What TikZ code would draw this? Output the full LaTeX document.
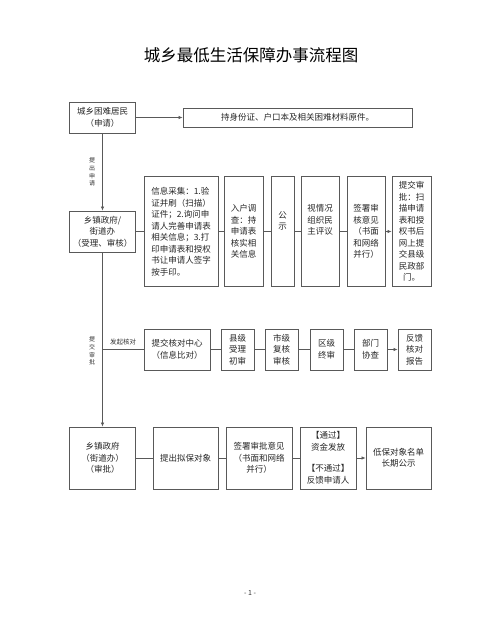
\documentclass[tikz,border=0pt]{standalone}
\usepackage{fontspec}
\setmainfont{Noto Sans CJK SC}
\usetikzlibrary{arrows.meta}

\begin{document}
\begin{tikzpicture}[x=1pt,y=-1pt]
  \tikzset{box/.style = {draw=black!65,line width=0.8pt,inner sep=1pt,align=center,text=black!85,font=\fontsize{8.5}{11.5}\selectfont}}
  \tikzset{link/.style = {draw=black!65,line width=0.7pt}}
  \tikzset{arr/.style = {link,-{Latex[length=4pt,width=3.5pt]}}}
  \tikzset{tag/.style = {inner sep=0pt,text=black!80,align=center,font=\fontsize{6}{7.8}\selectfont}}

\useasboundingbox (0,0) rectangle (500,643);

\node (title) at (251,55) {\fontsize{16.5}{18}\selectfont 城乡最低生活保障办事流程图};

% first row
\node[box,minimum width=66pt,minimum height=31pt] (apply) at (102.5,117.5) {城乡困难居民\\（申请）};
\node[box,minimum width=229pt,minimum height=19pt] (docs) at (297.5,117.5) {持身份证、户口本及相关困难材料原件。};

% second row
\node[box,minimum width=66pt,minimum height=41pt] (town) at (102.5,231.5) {乡镇政府/\\街道办\\（受理、审核）};
\node[box,minimum width=74pt,minimum height=110pt,align=left] (collect) at (181,231.5) {信息采集：1.验\\证并刷（扫描）\\证件；2.询问申\\请人完善申请表\\相关信息；3.打\\印申请表和授权\\书让申请人签字\\按手印。};
\node[box,minimum width=39pt,minimum height=110pt] (visit) at (243.5,231.5) {入户调\\查：持\\申请表\\核实相\\关信息};
\node[box,minimum width=23pt,minimum height=110pt] (notice) at (282.5,231.5) {公\\示\\[10pt]};
\node[box,minimum width=38pt,minimum height=110pt] (review) at (320,231.5) {视情况\\组织民\\主评议\\[12pt]};
\node[box,minimum width=38pt,minimum height=110pt] (sign) at (366,231.5) {签署审\\核意见\\（书面\\和网络\\并行）};
\node[box,minimum width=39pt,minimum height=110pt] (submit) at (411.5,231.5) {提交审\\批：扫\\描申请\\表和授\\权书后\\网上提\\交县级\\民政部\\门。};

% third row
\coordinate (split) at (102.5,349.5);
\node[box,minimum width=66pt,minimum height=41pt] (check) at (177,349.5) {提交核对中心\\（信息比对）};
\node[box,minimum width=33pt,minimum height=41pt] (county) at (237.5,349.5) {县级\\受理\\初审};
\node[box,minimum width=33pt,minimum height=41pt] (city) at (281.5,349.5) {市级\\复核\\审核};
\node[box,minimum width=33pt,minimum height=41pt] (district) at (326.5,349.5) {区级\\终审};
\node[box,minimum width=33pt,minimum height=41pt] (assist) at (370.5,349.5) {部门\\协查};
\node[box,minimum width=33pt,minimum height=41pt] (report) at (414.5,349.5) {反馈\\核对\\报告};

% fourth row
\node[box,minimum width=66pt,minimum height=62pt] (approve) at (102.5,458) {乡镇政府\\（街道办）\\（审批）};
\node[box,minimum width=65pt,minimum height=62pt] (propose) at (185.5,458) {提出拟保对象};
\node[box,minimum width=66pt,minimum height=62pt] (opinion) at (259,458) {签署审批意见\\（书面和网络\\并行）};
\node[box,minimum width=56pt,minimum height=62pt] (result) at (328,458) {【通过】\\资金发放\\[10pt]【不通过】\\反馈申请人};
\node[box,minimum width=65pt,minimum height=62pt] (publish) at (398.5,458) {低保对象名单\\长期公示};

\node[text=black!80,font=\fontsize{7}{8}\selectfont] (page) at (250,593) {- 1 -};

  \path (apply) edge[arr] (docs);
  \draw[arr] (apply) -- node[tag,left=7pt] {提\\出\\申\\请} (town);
  \draw[arr] (town) -- node[tag,left=7pt,pos=0.565] {提\\交\\审\\批} (approve);

    \path (town) edge[link] (collect);
    \path (collect) edge[link] (visit);
    \path (visit) edge[link] (notice);
    \path (notice) edge[link] (review);
    \path (review) edge[link] (sign);
    \path (sign) edge[arr] (submit);

    \draw[link] (split) -- node[tag,above=4pt,font=\fontsize{6.5}{8}\selectfont] {发起核对} (check);
    \path (check) edge[link] (county);
    \path (county) edge[link] (city);
    \path (city) edge[link] (district);
    \path (district) edge[link] (assist);
    \path (assist) edge[arr] (report);

    \path (approve) edge[link] (propose);
    \path (propose) edge[link] (opinion);
    \path (opinion) edge[link] (result);
    \path (result) edge[arr] (publish);

\end{tikzpicture}
\end{document}
